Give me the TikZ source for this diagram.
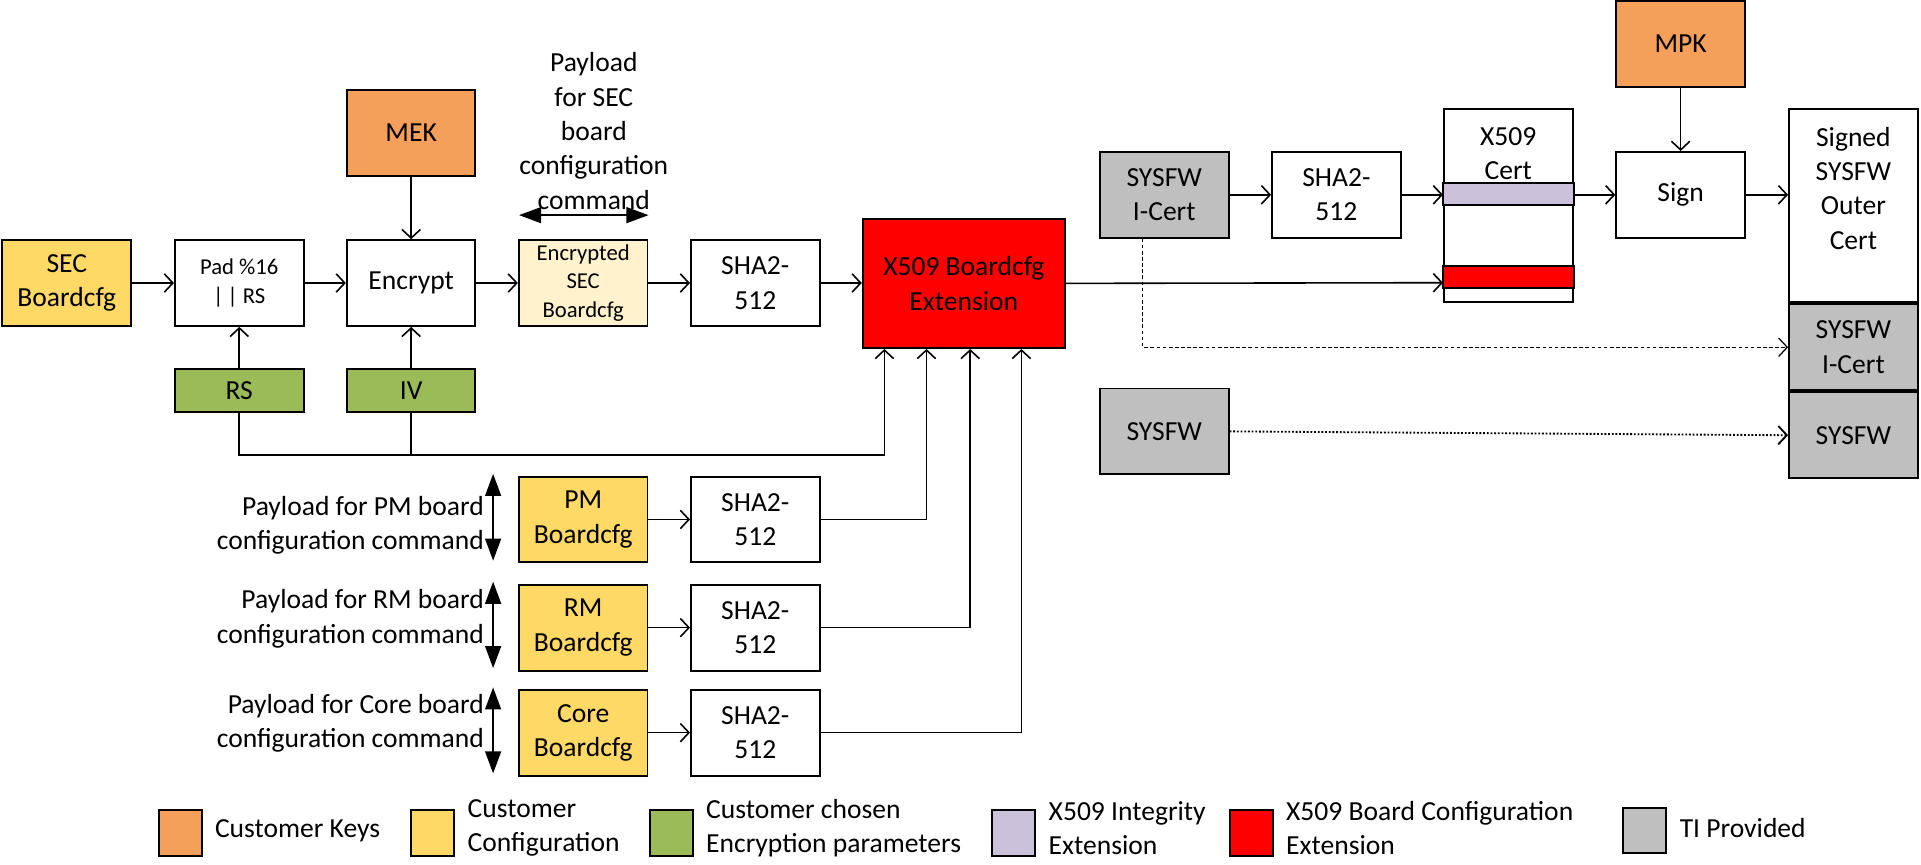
\documentclass[tikz,border=0pt]{standalone}
\usepackage{fontspec}
\setmainfont{Carlito}
\usetikzlibrary{calc,arrows.meta}
\definecolor{keyorange}{HTML}{F5A05A}
\definecolor{cfgyellow}{HTML}{FFD966}
\definecolor{encgreen}{HTML}{9BBB59}
\definecolor{intlav}{HTML}{CCC1DA}
\definecolor{extred}{HTML}{FF0000}
\definecolor{tigray}{HTML}{BFBFBF}
\definecolor{encpale}{HTML}{FFF2CC}
\newcommand{\boxsmall}{\fontsize{18.5}{23}\selectfont}
\tikzset{
  blk/.style={draw=black, line width=1.6pt, minimum width=105pt, minimum height=70pt, align=center},
  band/.style={draw=black, line width=1.6pt},
  swatch/.style={draw=black, line width=1.6pt, minimum width=35pt, minimum height=37pt},
  flow/.style={line width=1.3pt, -{Straight Barb[length=7pt,width=15pt]}},
  wire/.style={line width=1.3pt},
  dashflow/.style={line width=1pt, dash pattern=on 3pt off 2pt, -{Straight Barb[length=7pt,width=15pt]}},
  dotflow/.style={line width=1.5pt, dash pattern=on 1.5pt off 1.5pt, -{Straight Barb[length=7pt,width=15pt]}},
  payarrow/.style={line width=1.3pt, {Triangle[length=18pt,width=13pt]}-{Triangle[length=18pt,width=13pt]}}
}

\begin{document}
\begin{tikzpicture}[x=1pt, y=-1pt, inner sep=0pt, font=\fontsize{22.5}{28}\selectfont]
        \useasboundingbox (0,0) rectangle (1568,705.3);

        \node (secCfg) [blk, fill=cfgyellow] at (54.5,231) {SEC\\Boardcfg};
        \node (pad) [blk, font=\boxsmall] at (195.3,231) {Pad \%16\\|\,| RS};
        \node (encrypt) [blk] at (335.6,231) {Encrypt};
        \node (encSec) [blk, fill=encpale, font=\boxsmall] at (476,231) {Encrypted\\SEC\\Boardcfg};
        \node (sha0) [blk] at (616.5,231) {SHA2-\\512};
        \node (x509ext) [blk, fill=extred, minimum width=165pt, minimum height=105.5pt] at (786.7,231.3) {X509 Boardcfg\\Extension};
        \node (mek) [blk, fill=keyorange] at (335.6,108.6) {MEK};
        \node (rs) [blk, fill=encgreen, minimum height=35pt] at (195.3,319) {RS};
        \node (iv) [blk, fill=encgreen, minimum height=35pt] at (335.6,319) {IV};
        \node (payloadSec) [align=center] at (484.7,107) {Payload\\for SEC\\board\\configuration\\command};

        \node (pmCfg) [blk, fill=cfgyellow] at (476,424) {PM\\Boardcfg};
        \node (pmSha) [blk] at (616.5,424) {SHA2-\\512};
        \node (pmTxt) [anchor=east, align=right] at (395.2,428.5) {Payload for PM board\\configuration command};
        \node (rmCfg) [blk, fill=cfgyellow] at (476,512.3) {RM\\Boardcfg};
        \node (rmSha) [blk] at (616.5,512.3) {SHA2-\\512};
        \node (rmTxt) [anchor=east, align=right] at (395.2,505) {Payload for RM board\\configuration command};
        \node (coreCfg) [blk, fill=cfgyellow] at (476,598) {Core\\Boardcfg};
        \node (coreSha) [blk] at (616.5,598) {SHA2-\\512};
        \node (coreTxt) [anchor=east, align=right] at (395.2,590.5) {Payload for Core board\\configuration command};

        \node (sysIcert) [blk, fill=tigray] at (950.3,159) {SYSFW\\I-Cert};
        \node (shaI) [blk] at (1090.8,159) {SHA2-\\512};
        \node (x509cert) [blk, minimum height=158pt] at (1231.1,167.75) {};
        \draw[band, fill=intlav] ($(x509cert.north west)+(0,61.2)$) rectangle ($(x509cert.north east)+(0,79.2)$);
        \draw[band, fill=extred] ($(x509cert.north west)+(0,129.5)$) rectangle ($(x509cert.north east)+(0,146.9)$);
        \node (certTxt) [align=center] at (1231.1,125.4) {X509\\Cert};
        \node (mpk) [blk, fill=keyorange] at (1371.8,35.9) {MPK};
        \node (sign) [blk] at (1371.8,159) {Sign};
        \node (outer) [blk, minimum height=158pt] at (1512.8,167.75) {};
        \node (outerTxt) [align=center] at (1512.8,153.6) {Signed\\SYSFW\\Outer\\Cert};
        \node (outIcert) [blk, fill=tigray, minimum height=70.2pt, anchor=north] at (outer.south) {SYSFW\\I-Cert};
        \node (outSys) [blk, fill=tigray, minimum height=70.2pt, anchor=north] at (outIcert.south) {SYSFW};
        \node (sysfw) [blk, fill=tigray] at (950.3,352.1) {SYSFW};

        \draw[flow] (secCfg.east) -- (pad.west);
        \draw[flow] (pad.east) -- (encrypt.west);
        \draw[flow] (encrypt.east) -- (encSec.west);
        \draw[flow] (encSec.east) -- (sha0.west);
        \draw[flow] (sha0.east) -- (sha0.east -| x509ext.west);
        \draw[flow] (mek.south) -- (encrypt.north);
        \draw[flow] (rs.north) -- (pad.south);
        \draw[flow] (iv.north) -- (encrypt.south);
        \coordinate (bus) at (721.9,371.6);
        \draw[flow] (rs.south) |- (bus) -- (bus |- x509ext.south);
        \draw[wire] (iv.south) -- (iv.south |- bus);
        \draw[payarrow] ($(encSec.north west)+(1,-19.6)$) -- ($(encSec.north east)+(0,-19.6)$);

        \draw[flow] (pmCfg.east) -- (pmSha.west);
        \draw[flow] (rmCfg.east) -- (rmSha.west);
        \draw[flow] (coreCfg.east) -- (coreSha.west);
        \draw[flow] (pmSha.east) -| ($(x509ext.south west)+(52.8,0)$);
        \draw[flow] (rmSha.east) -| ($(x509ext.south west)+(88.5,0)$);
        \draw[flow] (coreSha.east) -| ($(x509ext.south west)+(130.3,0)$);
        \draw[payarrow] ($(pmCfg.north west)+(-20.2,-1.4)$) -- ($(pmCfg.south west)+(-20.2,-2.2)$);
        \draw[payarrow] ($(rmCfg.north west)+(-20.2,-1.7)$) -- ($(rmCfg.south west)+(-20.2,-2.8)$);
        \draw[payarrow] ($(coreCfg.north west)+(-20.2,-1.1)$) -- ($(coreCfg.south west)+(-20.2,-2.5)$);

        \draw[flow] (sysIcert.east) -- (shaI.west);
        \draw[flow] (shaI.east) -- (shaI.east -| x509cert.west);
        \draw[flow] (sign.west -| x509cert.east) -- (sign.west);
        \draw[flow] (sign.east) -- (sign.east -| outer.west);
        \draw[flow] (mpk.south) -- (sign.north);
        \draw[flow] (x509ext.east) -- ($(x509cert.west)+(0,63)$);
        \draw[dashflow] ($(sysIcert.south)+(-17.6,0)$) |- (outIcert.west);
        \draw[dotflow] (sysfw.east) -- (outSys.west);

        \node (lgKey) [swatch, fill=keyorange] at (147,680) {};
        \node (lgKeyTxt) [anchor=west] at ($(lgKey.east)+(10,-2)$) {Customer Keys};
        \node (lgCfg) [swatch, fill=cfgyellow] at (353.2,680) {};
        \node (lgCfgTxt) [anchor=west, align=left] at ($(lgCfg.east)+(10,-4)$) {Customer\\Configuration};
        \node (lgEnc) [swatch, fill=encgreen] at (547.9,680) {};
        \node (lgEncTxt) [anchor=west, align=left] at ($(lgEnc.east)+(10,-4)$) {Customer chosen\\Encryption parameters};
        \node (lgInt) [swatch, fill=intlav] at (827.5,680) {};
        \node (lgIntTxt) [anchor=west, align=left] at ($(lgInt.east)+(10,-4)$) {X509 Integrity\\Extension};
        \node (lgExt) [swatch, fill=extred] at (1021.3,680) {};
        \node (lgExtTxt) [anchor=west, align=left] at ($(lgExt.east)+(10,-4)$) {X509 Board Configuration\\Extension};
        \node (lgTi) [swatch, fill=tigray] at (1342.6,678) {};
        \node (lgTiTxt) [anchor=west] at ($(lgTi.east)+(10,-2)$) {TI Provided};
    \end{tikzpicture}
\end{document}
